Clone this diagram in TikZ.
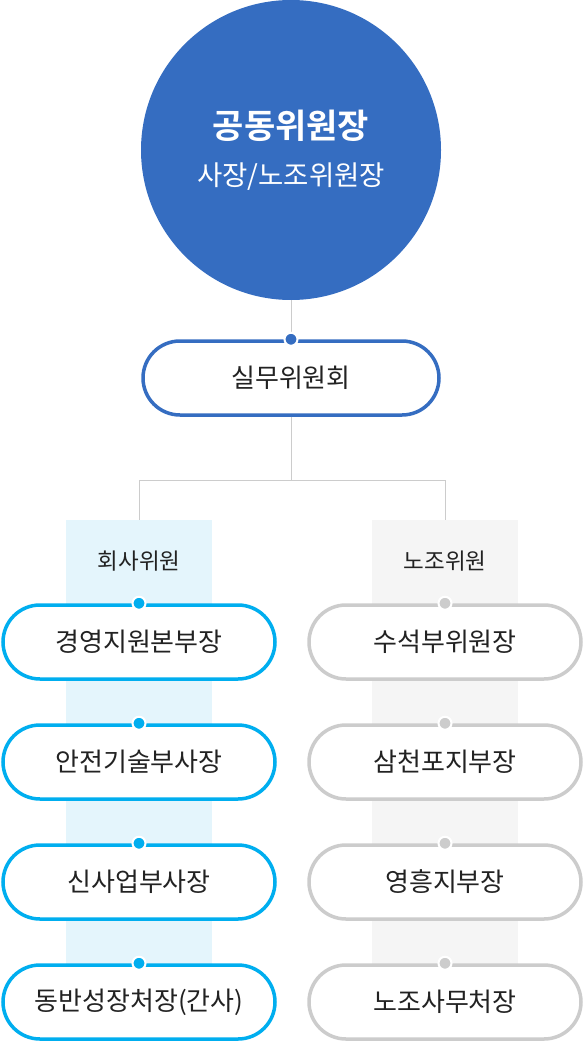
\documentclass[tikz,border=0pt]{standalone}
\usepackage{fontspec}
\setmainfont{Noto Sans CJK KR}[BoldFont={Noto Sans CJK KR Bold}]
\usetikzlibrary{calc}
\definecolor{chiefblue}{HTML}{356DC1}
\definecolor{compblue}{HTML}{00AEEF}
\definecolor{uniongray}{HTML}{CCCCCC}
\definecolor{compbg}{HTML}{E4F5FC}
\definecolor{unionbg}{HTML}{F5F5F5}
\definecolor{ink}{HTML}{222222}
\tikzstyle{pill}=[draw, fill=white, line width=3.5pt, rounded corners=37pt, minimum width=272pt, minimum height=74pt, inner sep=0pt, text=ink, font=\fontsize{26}{26}\selectfont]
\tikzstyle{joint}=[circle, draw=white, line width=2pt, minimum size=13pt, inner sep=0pt]
\tikzstyle{wire}=[draw=uniongray, line width=1pt]
\tikzstyle{group}=[text=ink, font=\fontsize{22.5}{22.5}\selectfont]

\begin{document}
\begin{tikzpicture}[x=1pt,y=-1pt]
\useasboundingbox (0,0) rectangle (584,1043);
\fill[compbg] (66,520) rectangle (212,1002);
\fill[unionbg] (372,520) rectangle (518,1002);
\node[circle, fill=chiefblue, minimum size=300pt, inner sep=0pt] (Chief) at (291,150) {};
\node[text=white, font=\fontsize{34}{34}\selectfont\bfseries] (ChiefT) at ($(Chief)+(0,-24)$) {공동위원장};
\node[text=white, font=\fontsize{27.5}{27.5}\selectfont] (ChiefS) at ($(Chief)+(0,27)$) {사장/노조위원장};
\node[pill, draw=chiefblue, minimum width=296pt] (Work) at (291,378) {실무위원회};
\coordinate (Split) at ($(Work.south)+(0,64)$);
\coordinate (CompTop) at (139,520);
\coordinate (UnionTop) at (445,520);
\node[group] (Comp) at (139,561) {회사위원};
\node[group] (Union) at (445,561) {노조위원};
\node[pill, draw=compblue] (C1) at (139,642) {경영지원본부장};
\node[pill, draw=compblue] (C2) at ($(C1)+(0,120)$) {안전기술부사장};
\node[pill, draw=compblue] (C3) at ($(C2)+(0,120)$) {신사업부사장};
\node[pill, draw=compblue] (C4) at ($(C3)+(0,120)$) {동반성장처장(간사)};
\node[pill, draw=uniongray] (U1) at (445,642) {수석부위원장};
\node[pill, draw=uniongray] (U2) at ($(U1)+(0,120)$) {삼천포지부장};
\node[pill, draw=uniongray] (U3) at ($(U2)+(0,120)$) {영흥지부장};
\node[pill, draw=uniongray] (U4) at ($(U3)+(0,120)$) {노조사무처장};
\draw[wire] (Chief.south) -- (Work.north);
\draw[wire] (Work.south) -- (Split) -| (CompTop);
\draw[wire] (Split) -| (UnionTop);
\node[joint, fill=chiefblue] at (Work.north) {};
\foreach \n in {C1,C2,C3,C4} \node[joint, fill=compblue] at (\n.north) {};
\foreach \n in {U1,U2,U3,U4} \node[joint, fill=uniongray] at (\n.north) {};
\end{tikzpicture}
\end{document}
